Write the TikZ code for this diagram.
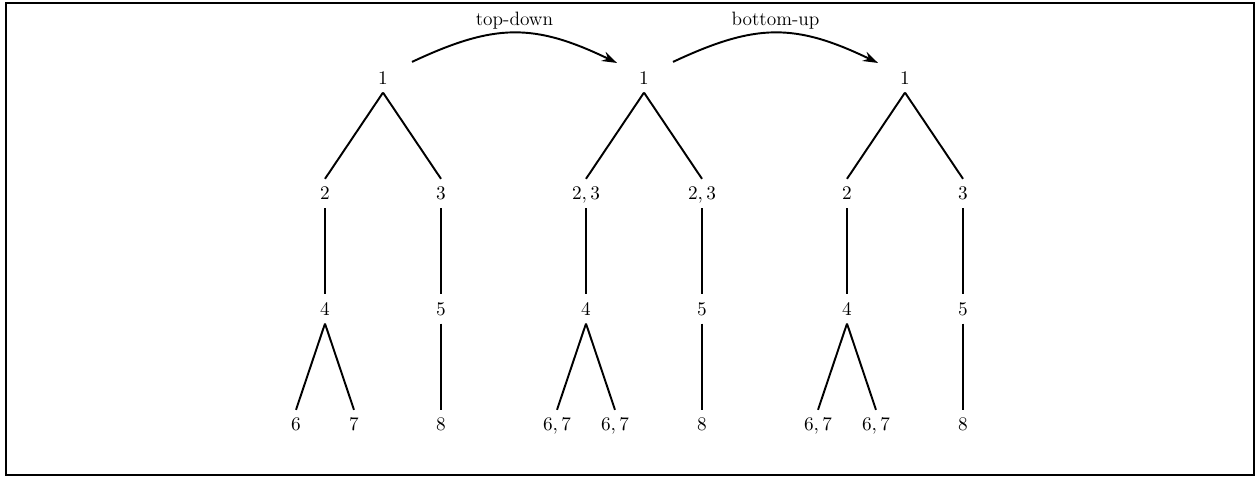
\documentclass[tikz,border=0pt]{standalone}
\usepackage{fontspec}
\usepackage{tikz}
\usetikzlibrary{arrows.meta}
\newcommand{\spaced}[1]{{\fontsize{11}{13}\selectfont\addfontfeatures{LetterSpace=5}#1}}

\begin{document}
\begin{tikzpicture}[x=0.58cm, y=2.31cm,
	num/.style={inner sep=4.6pt, text depth=0pt, font=\fontsize{11}{13}\selectfont},
	branch/.style={line width=1.1pt},
	pass/.style={line width=1.1pt, -{Stealth[length=3mm, width=2mm, inset=1mm]}},
	passlabel/.style={inner sep=1.5pt}]
	\useasboundingbox (-13.207,-3.472) rectangle (30.207,0.675);
	\draw[line width=1.1pt] (-13,-3.437) rectangle (30.03,0.649);
	%\draw[step=1, black!20!white] (-13,-3) grid (30,0);
	% tree before
	\node[num] (r1) at (0,0) {$1$};
	\node[num] (b1) at (-2,-1) {$2$};
	\node[num] (c1) at (2,-1) {$3$};
	\node[num] (d1) at (-2,-2) {$4$};
	\node[num] (e1) at (2,-2) {$5$};
	\node[num] (f1) at (-3,-3) {$6$};
	\node[num] (g1) at (-1,-3) {$7$};
	\node[num] (h1) at (2,-3) {$8$};
	% tree after top-down
	\node[num] (r2) at (9,0) {$1$};
	\node[num] (b2) at (7,-1) {$2,3$};
	\node[num] (c2) at (11,-1) {$2,3$};
	\node[num] (d2) at (7,-2) {$4$};
	\node[num] (e2) at (11,-2) {$5$};
	\node[num] (f2) at (6,-3) {$6,7$};
	\node[num] (g2) at (8,-3) {$6,7$};
	\node[num] (h2) at (11,-3) {$8$};
	% tree after bottom-up
	\node[num] (r3) at (18,0) {$1$};
	\node[num] (b3) at (16,-1) {$2$};
	\node[num] (c3) at (20,-1) {$3$};
	\node[num] (d3) at (16,-2) {$4$};
	\node[num] (e3) at (20,-2) {$5$};
	\node[num] (f3) at (15,-3) {$6,7$};
	\node[num] (g3) at (17,-3) {$6,7$};
	\node[num] (h3) at (20,-3) {$8$};
	\foreach \t in {1,2,3}{
		\draw[branch] (r\t.south) -- (b\t.north);
		\draw[branch] (r\t.south) -- (c\t.north);
		\draw[branch] (b\t.south) -- (d\t.north);
		\draw[branch] (c\t.south) -- (e\t.north);
		\draw[branch] (d\t.south) -- (f\t.north);
		\draw[branch] (d\t.south) -- (g\t.north);
		\draw[branch] (e\t.south) -- (h\t.north);
	}
	\draw[pass] ([shift={(1,0.139)}]r1.center) .. controls +(2.862,0.337) and +(-2.862,0.346) .. ([shift={(-0.931,0.130)}]r2.center) node[passlabel, pos=0.5, above] {\spaced{top-down}};
	\draw[pass] ([shift={(1,0.139)}]r2.center) .. controls +(2.862,0.337) and +(-2.862,0.346) .. ([shift={(-0.931,0.130)}]r3.center) node[passlabel, pos=0.5, above] {\spaced{bottom-up}};
\end{tikzpicture}
\end{document}
